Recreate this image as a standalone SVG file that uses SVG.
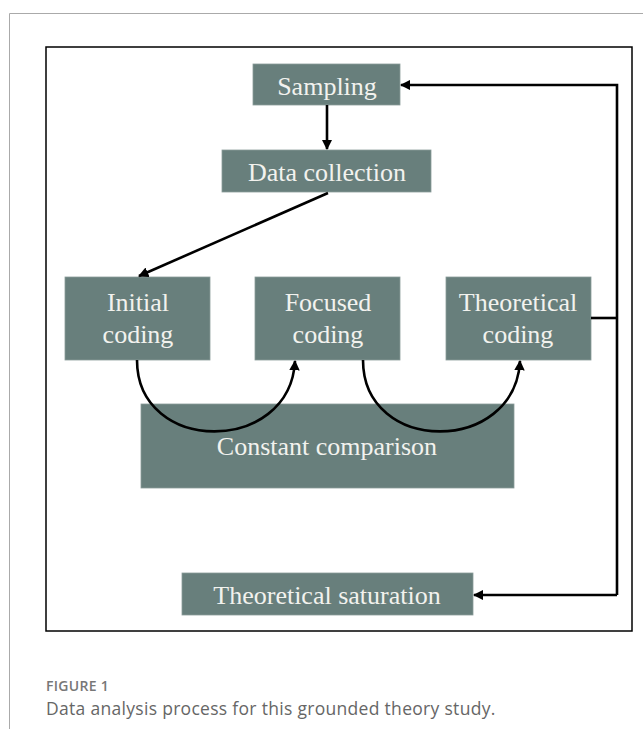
<svg xmlns="http://www.w3.org/2000/svg" width="643" height="729" viewBox="0 0 643 729">
<defs>
<marker id="ah" viewBox="0 0 10 10" refX="9" refY="5" markerWidth="4" markerHeight="4" orient="auto" markerUnits="strokeWidth">
<path d="M0,0 L10,5 L0,10 z" fill="#000"/>
</marker>
<style>
.box{fill:#687f7c;stroke:#8a9c99;stroke-width:0.8}
.lbl{font-family:"Liberation Serif","Times New Roman",serif;font-size:26px;fill:#f2f2ee;text-anchor:middle}
.con{fill:none;stroke:#000;stroke-width:2.6}
</style>
</defs>
<rect width="643" height="729" fill="#fff"/>
<path d="M9.5,729 V13.5 H643" fill="none" stroke="#aaa" stroke-width="1"/>
<rect x="46" y="47" width="586" height="584" fill="none" stroke="#000" stroke-width="1.5"/>

<g id="sampling"><rect class="box" x="253" y="64" width="147" height="41"/><text class="lbl" x="327" y="95">Sampling</text></g>
<g id="data-collection"><rect class="box" x="222" y="150" width="209" height="42"/><text class="lbl" x="327" y="181">Data collection</text></g>
<g id="initial-coding"><rect class="box" x="65" y="277" width="145" height="83"/><text class="lbl" x="138" y="311">Initial</text><text class="lbl" x="138" y="343">coding</text></g>
<g id="focused-coding"><rect class="box" x="255" y="277" width="145" height="83"/><text class="lbl" x="328" y="311">Focused</text><text class="lbl" x="328" y="343">coding</text></g>
<g id="theoretical-coding"><rect class="box" x="446" y="277" width="145" height="83"/><text class="lbl" x="518" y="311">Theoretical</text><text class="lbl" x="518" y="343">coding</text></g>
<g id="constant-comparison"><rect class="box" x="141" y="404" width="373" height="84"/><text class="lbl" x="327" y="455">Constant comparison</text></g>
<g id="theoretical-saturation"><rect class="box" x="182" y="573" width="291" height="42"/><text class="lbl" x="327" y="604">Theoretical saturation</text></g>

<g id="connectors">
<path class="con" d="M327,105 V149" marker-end="url(#ah)"/>
<path class="con" d="M328,193 L139,276" marker-end="url(#ah)"/>
<path class="con" d="M137,360 C137,455 290,455 295,361" marker-end="url(#ah)"/>
<path class="con" d="M363,360 C363,455 515,455 520,361" marker-end="url(#ah)"/>
<path class="con" d="M591,318 H617"/>
<path class="con" d="M617,595 V85 H401" marker-end="url(#ah)"/>
<path class="con" d="M617,595 H474" marker-end="url(#ah)"/>
</g>

<text x="46" y="691" font-family="'Open Sans','Liberation Sans',sans-serif" font-size="14" font-weight="600" letter-spacing="0.3" fill="#777">FIGURE 1</text>
<text x="46" y="715" font-family="'Open Sans','Liberation Sans',sans-serif" font-size="17.5" letter-spacing="0.3" fill="#666">Data analysis process for this grounded theory study.</text>
</svg>
